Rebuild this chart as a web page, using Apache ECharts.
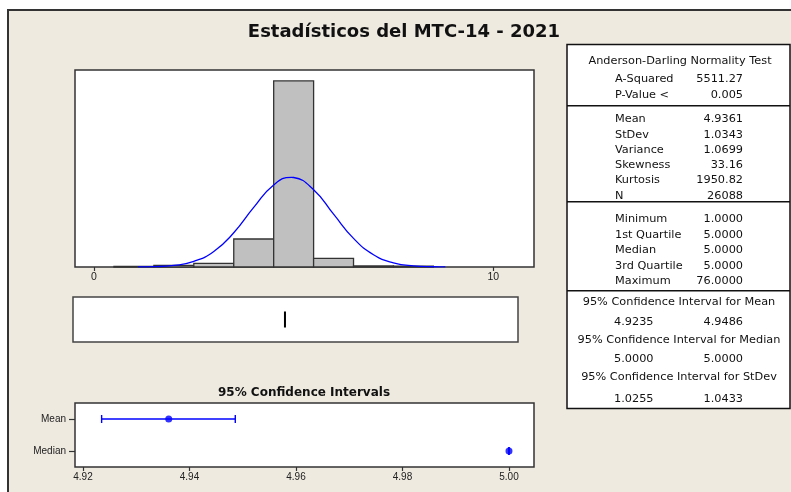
<!DOCTYPE html>
<html>
<head>
<meta charset="utf-8">
<script src="https://cdn.jsdelivr.net/npm/echarts@6/dist/echarts.min.js"></script>
<style>
  html, body { margin: 0; padding: 0; background: #ffffff; }
  #chart { width: 791px; height: 492px; }
</style>
</head>
<body>
<div id="chart"></div>
<script>
// ---------------- data ----------------
const mainTitle = 'Estadísticos del MTC-14 - 2021';
const ciTitle = '95% Confidence Intervals';

// histogram (bin edges and counts)
const histBinEdges = [0.5, 1.5, 2.5, 3.5, 4.5, 5.5, 6.5, 7.5, 8.5];
const histCounts = [70, 180, 415, 3140, 20870, 975, 110, 100];
const histTicks = [0, 10];

// fitted normal curve (x, count scale)
const curveX = [1.1, 1.5, 2, 2.5, 3, 3.5, 4, 4.5, 4.94, 5, 5.5, 6, 6.5, 7, 7.5, 8, 8.5, 8.8];
const curveY = [10, 40, 180, 630, 1745, 3840, 6680, 9210, 10060, 10040, 8670, 5930, 3210, 1380, 470, 125, 27, 8];

// box plot: [lower whisker, Q1, median, Q3, upper whisker]
const boxStats = [5, 5, 5, 5, 5];

// confidence intervals
const ciCategories = ['Mean', 'Median'];
const ciLow = [4.9235, 5.0];
const ciHigh = [4.9486, 5.0];
const ciCenter = [4.9361, 5.0];
const ciTicks = [4.92, 4.94, 4.96, 4.98, 5.00];

// summary table
const adHeader = 'Anderson-Darling Normality Test';
const adLabels = ['A-Squared', 'P-Value <'];
const adValues = ['5511.27', '0.005'];
const descLabels = ['Mean', 'StDev', 'Variance', 'Skewness', 'Kurtosis', 'N'];
const descValues = ['4.9361', '1.0343', '1.0699', '33.16', '1950.82', '26088'];
const quantLabels = ['Minimum', '1st Quartile', 'Median', '3rd Quartile', 'Maximum'];
const quantValues = ['1.0000', '5.0000', '5.0000', '5.0000', '76.0000'];
const ciHeaders = ['95% Confidence Interval for Mean', '95% Confidence Interval for Median', '95% Confidence Interval for StDev'];
const ciLowText = ['4.9235', '5.0000', '1.0255'];
const ciHighText = ['4.9486', '5.0000', '1.0433'];

// ---------------- layout ----------------
const FONT = 'DejaVu Sans';
const AXFONT = 'Liberation Sans';
const BG = '#EEEAE0';
const BLUE = '#0000FF';
const histRange = [-0.476, 11.02];
const ciRange = [4.9185, 5.0047];

const tbl = { x: 567, y: 44.5, r: 790, b: 408.5, labelX: 615, valueX: 743, ciLeftX: 614, center: 679 };
const adRowsY = [79.3, 94.7];
const descRowsY = [119.3, 134.6, 149.9, 165.2, 180.5, 195.8];
const quantRowsY = [219, 234.6, 250.2, 265.8, 281.4];
const ciHeadY = [301.7, 340, 376.7];
const ciValY = [321.7, 359.3, 399];
const sepY = [105.7, 201.7, 290.7];
const TFONT = '11.3px "' + FONT + '"';

const txtStyle = (x, y, text, align, extra) => ({
  type: 'text', x: x, y: y, z: 20,
  style: Object.assign({ text: text, fill: '#111', font: TFONT, textAlign: align, textVerticalAlign: 'middle' }, extra || {})
});

const graphics = [];
// beige panel with left/top border
graphics.push({ type: 'rect', z: -10, shape: { x: 8, y: 10, width: 820, height: 520 },
  style: { fill: BG, stroke: '#333', lineWidth: 2 } });
// titles
graphics.push(txtStyle(404, 32.5, mainTitle, 'center', { font: 'bold 18px "' + FONT + '"' }));
graphics.push(txtStyle(304, 392.5, ciTitle, 'center', { font: 'bold 12px "' + FONT + '"' }));
// table frame
graphics.push({ type: 'rect', z: 15, shape: { x: tbl.x, y: tbl.y, width: tbl.r - tbl.x, height: tbl.b - tbl.y },
  style: { fill: '#fff', stroke: '#111', lineWidth: 1.5 } });
sepY.forEach(y => graphics.push({ type: 'line', z: 16, shape: { x1: tbl.x, y1: y, x2: tbl.r, y2: y },
  style: { stroke: '#111', lineWidth: 1.5 } }));
graphics.push(txtStyle(680, 60.7, adHeader, 'center'));
adLabels.forEach((t, i) => { graphics.push(txtStyle(tbl.labelX, adRowsY[i], t, 'left')); graphics.push(txtStyle(tbl.valueX, adRowsY[i], adValues[i], 'right')); });
descLabels.forEach((t, i) => { graphics.push(txtStyle(tbl.labelX, descRowsY[i], t, 'left')); graphics.push(txtStyle(tbl.valueX, descRowsY[i], descValues[i], 'right')); });
quantLabels.forEach((t, i) => { graphics.push(txtStyle(tbl.labelX, quantRowsY[i], t, 'left')); graphics.push(txtStyle(tbl.valueX, quantRowsY[i], quantValues[i], 'right')); });
ciHeaders.forEach((t, i) => {
  graphics.push(txtStyle(tbl.center, ciHeadY[i], t, 'center'));
  graphics.push(txtStyle(tbl.ciLeftX, ciValY[i], ciLowText[i], 'left'));
  graphics.push(txtStyle(tbl.valueX, ciValY[i], ciHighText[i], 'right'));
});

const chart = echarts.init(document.getElementById('chart'), null, { renderer: 'canvas' });

const histData = histCounts.map((c, i) => [histBinEdges[i], histBinEdges[i + 1], c]);
const curveData = curveX.map((x, i) => [x, curveY[i]]);
const ciData = ciCategories.map((c, i) => [ciLow[i], ciHigh[i], i]);
const ciPoints = ciCategories.map((c, i) => [ciCenter[i], i]);

const option = {
  backgroundColor: '#ffffff',
  animation: false,
  textStyle: { fontFamily: FONT },
  graphic: graphics,
  grid: [
    { left: 75, top: 70, width: 459, height: 197, show: true, backgroundColor: '#fff', borderColor: '#333', borderWidth: 1.5 },
    { left: 73, top: 297, width: 445, height: 45, show: true, backgroundColor: '#fff', borderColor: '#444', borderWidth: 1.5 },
    { left: 75, top: 403, width: 459, height: 64, show: true, backgroundColor: '#fff', borderColor: '#333', borderWidth: 1.5 }
  ],
  xAxis: [
    { gridIndex: 0, type: 'value', min: histRange[0], max: histRange[1],
      axisLine: { show: false }, splitLine: { show: false },
      axisTick: { show: true, customValues: histTicks, length: 4, lineStyle: { color: '#333', width: 1.2 } },
      axisLabel: { show: true, customValues: histTicks, margin: 5, fontSize: 10.5, fontFamily: AXFONT, color: '#222' } },
    { gridIndex: 1, type: 'value', min: histRange[0], max: histRange[1], show: false, splitLine: { show: false } },
    { gridIndex: 2, type: 'value', min: ciRange[0], max: ciRange[1],
      axisLine: { show: false }, splitLine: { show: false },
      axisTick: { show: true, customValues: ciTicks, length: 4, lineStyle: { color: '#333', width: 1.2 } },
      axisLabel: { show: true, customValues: ciTicks, margin: 5, fontSize: 10, fontFamily: AXFONT, color: '#222',
        formatter: v => Number(v).toFixed(2) } }
  ],
  yAxis: [
    { gridIndex: 0, type: 'value', min: 0, max: 22100, show: false, splitLine: { show: false } },
    { gridIndex: 1, type: 'category', data: ['box'], show: false },
    { gridIndex: 2, type: 'category', data: ciCategories, inverse: true,
      axisLine: { show: false },
      axisTick: { show: true, alignWithLabel: true, length: 6, lineStyle: { color: '#333', width: 1.2 } },
      axisLabel: { margin: 9, fontSize: 10, fontFamily: AXFONT, color: '#222' } }
  ],
  series: [
    { type: 'custom', xAxisIndex: 0, yAxisIndex: 0, data: histData, encode: { x: [0, 1], y: 2 },
      renderItem: (params, api) => {
        const p0 = api.coord([api.value(0), 0]);
        const p1 = api.coord([api.value(1), api.value(2)]);
        return { type: 'rect', shape: { x: p0[0], y: p1[1], width: p1[0] - p0[0], height: p0[1] - p1[1] },
          style: { fill: '#C0C0C0', stroke: '#333', lineWidth: 1.3 } };
      } },
    { type: 'line', xAxisIndex: 0, yAxisIndex: 0, data: curveData, smooth: true, showSymbol: false, symbol: 'none',
      lineStyle: { color: BLUE, width: 1.3 }, z: 5 },
    { type: 'boxplot', xAxisIndex: 1, yAxisIndex: 1, data: [boxStats], boxWidth: [16, 16],
      itemStyle: { color: '#fff', borderColor: '#000', borderWidth: 2 } },
    { type: 'custom', xAxisIndex: 2, yAxisIndex: 2, data: ciData, encode: { x: [0, 1], y: 2 },
      renderItem: (params, api) => {
        const a = api.coord([api.value(0), api.value(2)]);
        const b = api.coord([api.value(1), api.value(2)]);
        const h = 4;
        const st = { stroke: BLUE, lineWidth: 1.4 };
        return { type: 'group', children: [
          { type: 'line', shape: { x1: a[0], y1: a[1], x2: b[0], y2: b[1] }, style: st },
          { type: 'line', shape: { x1: a[0], y1: a[1] - h, x2: a[0], y2: a[1] + h }, style: st },
          { type: 'line', shape: { x1: b[0], y1: b[1] - h, x2: b[0], y2: b[1] + h }, style: st }
        ] };
      } },
    { type: 'scatter', xAxisIndex: 2, yAxisIndex: 2, data: ciPoints, symbol: 'circle', symbolSize: 7,
      itemStyle: { color: BLUE }, z: 6 }
  ]
};
chart.setOption(option);
</script>
</body>
</html>
